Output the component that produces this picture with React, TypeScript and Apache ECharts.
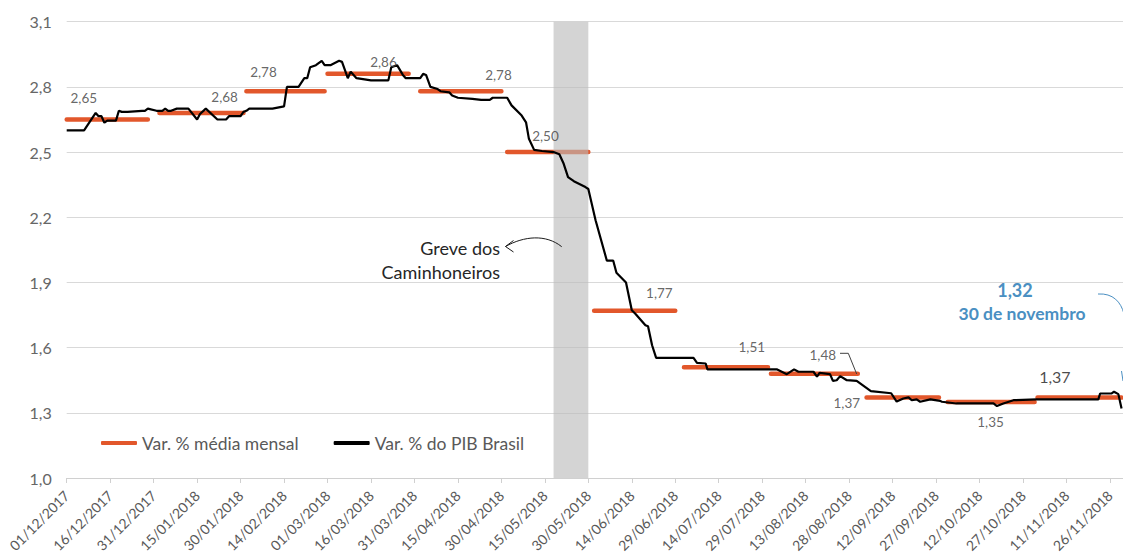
import React, { useEffect, useRef } from "react";
import * as echarts from "echarts";

const START = Date.UTC(2017, 11, 1);

// Monthly average (orange) — first/last business day of each month (day index from 01/12/2017)
const monthNames = ["dez", "jan", "fev", "mar", "abr", "mai", "jun", "jul", "ago", "set", "out", "nov"];
const monthFirstDays = [0, 32, 62, 90, 122, 152, 182, 213, 243, 276, 304, 335];
const monthLastDays = [28, 61, 89, 118, 150, 180, 210, 242, 273, 301, 334, 364];
const monthlyAvg = [2.65, 2.68, 2.78, 2.86, 2.78, 2.5, 1.77, 1.51, 1.48, 1.37, 1.35, 1.37];

// Daily PIB expectation (black)
const pibDays = [
  0, 6, 10, 11, 12, 13, 14, 17, 18, 19, 21, 26, 27, 28, 31, 33, 34, 35, 36, 38, 42, 45, 46, 48, 52, 55, 56, 60, 61, 62, 63,
  71, 75, 76, 80, 82, 83, 84, 86, 88, 89, 91, 94, 95, 97, 98, 100, 105, 111, 112, 114, 116, 117, 122, 123, 124, 125.5, 128,
  129, 132, 133, 135, 140, 143, 146, 147, 152, 153.5, 157, 158.5, 159.5, 161.3, 164, 168, 170, 171.5, 173, 175, 179, 180,
  182.5, 186.4, 188.6, 189.7, 193, 195, 196.3, 199.7, 200.6, 202, 203.4, 216.3, 217.5, 220.5, 221.1, 245, 248.5, 251, 252.5,
  257.7, 258.9, 259.8, 263.4, 264.4, 265.7, 266.9, 269.2, 272.6, 277.5, 284.5, 286.4, 288.7, 290.5, 291.6, 293.3, 294.5, 298,
  301.4, 302, 307, 319.8, 321, 323.2, 326.7, 334.7, 356, 356.6, 360.6, 361.4, 362.9, 364,
];
const pibValues = [
  2.6, 2.6, 2.68, 2.665, 2.665, 2.635, 2.645, 2.645, 2.69, 2.685, 2.685, 2.69, 2.69, 2.7, 2.69, 2.69, 2.7, 2.69, 2.69, 2.7, 2.7,
  2.65, 2.675, 2.7, 2.65, 2.65, 2.665, 2.665, 2.685, 2.69, 2.7, 2.7, 2.71, 2.8, 2.8, 2.84, 2.84, 2.89, 2.9, 2.92, 2.9, 2.9,
  2.92, 2.915, 2.84, 2.87, 2.84, 2.83, 2.83, 2.89, 2.9, 2.855, 2.84, 2.84, 2.86, 2.855, 2.8, 2.79, 2.78, 2.775, 2.76, 2.75,
  2.745, 2.74, 2.74, 2.75, 2.75, 2.715, 2.668, 2.637, 2.561, 2.51, 2.505, 2.5, 2.49, 2.446, 2.385, 2.366, 2.339, 2.33, 2.186,
  2.0, 2.0, 1.945, 1.9, 1.772, 1.755, 1.703, 1.698, 1.611, 1.553, 1.553, 1.53, 1.527, 1.5, 1.5, 1.478, 1.5, 1.489, 1.489,
  1.466, 1.484, 1.478, 1.447, 1.45, 1.469, 1.45, 1.447, 1.4, 1.39, 1.352, 1.366, 1.371, 1.358, 1.362, 1.351, 1.362, 1.355,
  1.351, 1.343, 1.343, 1.331, 1.343, 1.358, 1.362, 1.362, 1.389, 1.389, 1.397, 1.386, 1.32,
];

// Strike period (Greve dos Caminhoneiros)
const strikeStartDay = 168;
const strikeEndDay = 180;

// Label styling (anchor days and vertical offsets in px)
const labelAnchorDays = [5.9, 54.5, 67.9, 109.3, 149, 165.2, 204.5, 236.4, 260.9, 269.2, 318.8, 341];
const labelDy = [-21, -16, -19, -12, -16, -16, -18, -20, -19, 5, 20, -21.5];

const FONT = "Lato, 'Open Sans', sans-serif";
const ORANGE = "#E2572B";
const BLUE = "#4A8FC2";

function dayLabel(d: number): string {
  const dt = new Date(START + Math.round(d) * 86400000);
  const dd = String(dt.getUTCDate()).padStart(2, "0");
  const mm = String(dt.getUTCMonth() + 1).padStart(2, "0");
  return `${dd}/${mm}/${dt.getUTCFullYear()}`;
}
const fmt2 = (v: number) => v.toFixed(2).replace(".", ",");

export default function App() {
  const ref = useRef<HTMLDivElement>(null);
  useEffect(() => {
    if (!ref.current) return;
    const chart = echarts.init(ref.current, undefined, { renderer: "svg" });

    const orangeData: any[] = [];
    monthlyAvg.forEach((v, i) => {
      orangeData.push([monthFirstDays[i], v], [monthLastDays[i], v], [monthLastDays[i] + 0.5, "-"]);
    });
    const pibData = pibDays.map((d, i) => [d, pibValues[i]]);

    const labelData = monthlyAvg.map((v, i) => ({
      name: monthNames[i],
      value: [labelAnchorDays[i], v],
      label: {
        offset: [0, labelDy[i]],
        fontSize: i === 11 ? 16 : 13.5,
        color: i === 11 ? "#1a1a1a" : "#404040",
      },
    }));

    chart.setOption({
      animation: false,
      textStyle: { fontFamily: FONT },
      grid: { left: 66.7, right: 0, top: 21.7, bottom: 77, containLabel: false },
      legend: {
        left: 101,
        top: 434,
        padding: 0,
        itemWidth: 36,
        itemHeight: 4,
        itemGap: 35,
        icon: "roundRect",
        textStyle: { fontFamily: FONT, fontSize: 17.5, color: "#595959" },
        data: ["Var. % média mensal", "Var. % do PIB Brasil"],
      },
      xAxis: {
        type: "value",
        min: 0,
        max: 364.5,
        interval: 15,
        splitLine: { show: false },
        axisLine: { show: true, lineStyle: { color: "#d0d0d0", width: 1 } },
        axisTick: { show: true, length: 5, lineStyle: { color: "#d0d0d0" } },
        axisLabel: {
          rotate: 45,
          margin: 15,
          fontSize: 14,
          color: "#595959",
          fontFamily: FONT,
          showMaxLabel: false,
          formatter: (v: number) => dayLabel(v),
        },
      },
      yAxis: {
        type: "value",
        min: 1.0,
        max: 3.1,
        interval: 0.3,
        axisLine: { show: false },
        axisTick: { show: false },
        splitLine: { lineStyle: { color: "#d9d9d9", width: 1 } },
        axisLabel: {
          margin: 15,
          fontSize: 16,
          color: "#666666",
          fontFamily: FONT,
          formatter: (v: number) => v.toFixed(1).replace(".", ","),
        },
      },
      series: [
        {
          name: "Var. % média mensal",
          type: "line",
          z: 2,
          showSymbol: false,
          connectNulls: false,
          data: orangeData,
          itemStyle: { color: ORANGE },
          lineStyle: { color: ORANGE, width: 4.5, cap: "round" },
        },
        {
          name: "strike",
          type: "line",
          z: 3,
          clip: false,
          data: [],
          silent: true,
          markArea: {
            silent: true,
            z: 3,
            itemStyle: { color: "rgba(185,185,185,0.62)" },
            data: [[{ xAxis: strikeStartDay, yAxis: 0.99 }, { xAxis: strikeEndDay, yAxis: 3.131 }]],
          },
        },
        {
          name: "Var. % do PIB Brasil",
          type: "line",
          z: 5,
          showSymbol: false,
          data: pibData,
          itemStyle: { color: "#000000" },
          lineStyle: { color: "#000000", width: 2.2 },
        },
        {
          name: "labels",
          type: "scatter",
          z: 6,
          symbolSize: 0,
          silent: true,
          data: labelData,
          label: {
            show: true,
            position: "inside",
            fontFamily: FONT,
            formatter: (p: any) => fmt2(p.value[1]),
          },
        },
      ],
      graphic: [
        {
          type: "text",
          z: 10,
          style: { text: "Greve dos", x: 500, y: 247.7, align: "right", verticalAlign: "middle", font: `18px ${FONT}`, fill: "#262626" },
        },
        {
          type: "text",
          z: 10,
          style: { text: "Caminhoneiros", x: 500, y: 271.7, align: "right", verticalAlign: "middle", font: `18px ${FONT}`, fill: "#262626" },
        },
        {
          type: "bezierCurve",
          z: 10,
          shape: { x1: 561.7, y1: 246.7, cpx1: 546, cpy1: 234, cpx2: 524, cpy2: 236, x2: 505.5, y2: 246.5 },
          style: { stroke: "#1a1a1a", lineWidth: 1, fill: "none" },
        },
        {
          type: "polyline",
          z: 10,
          shape: { points: [[513.5, 240.5], [505.5, 246.5], [513.5, 252]] },
          style: { stroke: "#1a1a1a", lineWidth: 1, fill: "none" },
        },
        {
          type: "polyline",
          z: 10,
          shape: { points: [[840, 353.3], [848.3, 353.3], [856.7, 374]] },
          style: { stroke: "#404040", lineWidth: 1, fill: "none" },
        },
        {
          type: "text",
          z: 10,
          style: { text: "1,32", x: 1015, y: 290, align: "center", verticalAlign: "middle", font: `bold 18px ${FONT}`, fill: BLUE },
        },
        {
          type: "text",
          z: 10,
          style: { text: "30 de novembro", x: 1022, y: 313, align: "center", verticalAlign: "middle", font: `bold 17.5px ${FONT}`, fill: BLUE },
        },
        {
          type: "bezierCurve",
          z: 10,
          shape: { x1: 1098, y1: 294, cpx1: 1113, cpy1: 293, cpx2: 1121, cpy2: 302, x2: 1124, y2: 314 },
          style: { stroke: BLUE, lineWidth: 1, fill: "none" },
        },
        {
          type: "line",
          z: 10,
          shape: { x1: 1121.5, y1: 371, x2: 1123, y2: 381 },
          style: { stroke: BLUE, lineWidth: 1 },
        },
      ],
    });
    return () => chart.dispose();
  }, []);
  return <div ref={ref} style={{ position: "absolute", left: 0, top: 0, width: 1123, height: 555 }} />;
}
